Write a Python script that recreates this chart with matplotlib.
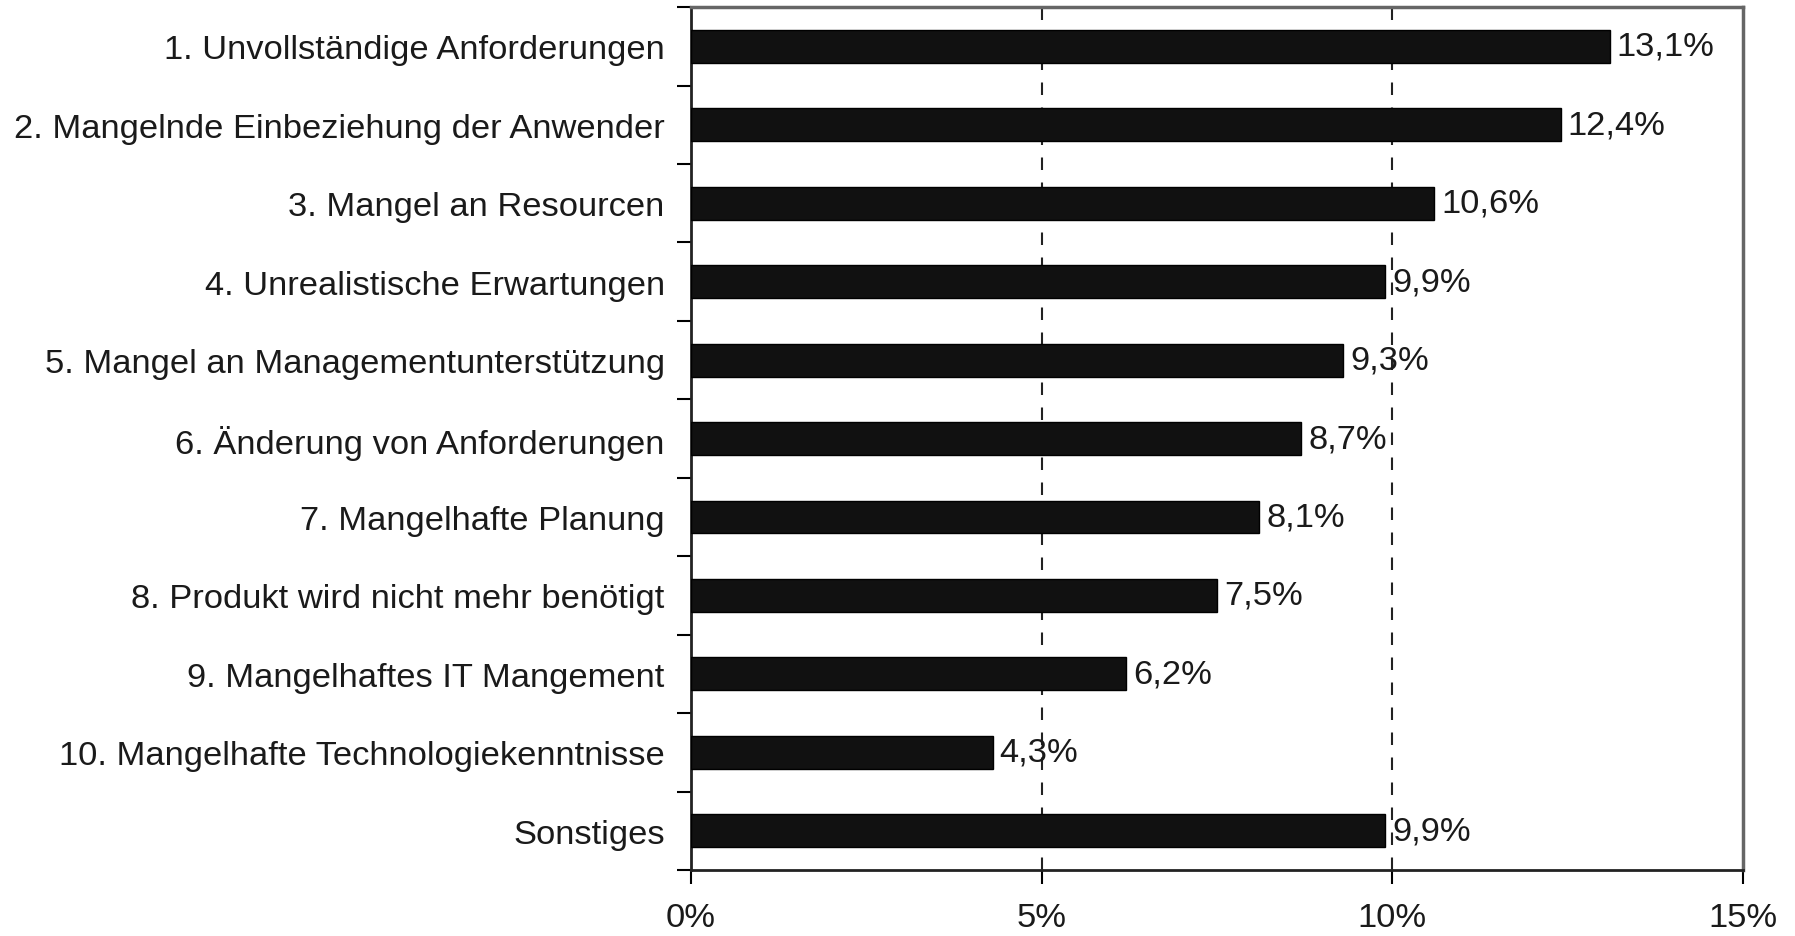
import matplotlib.pyplot as plt
import numpy as np

plt.rcParams['font.family'] = ['Liberation Sans', 'DejaVu Sans']

categories = [
    "1. Unvollständige Anforderungen",
    "2. Mangelnde Einbeziehung der Anwender",
    "3. Mangel an Resourcen",
    "4. Unrealistische Erwartungen",
    "5. Mangel an Managementunterstützung",
    "6. Änderung von Anforderungen",
    "7. Mangelhafte Planung",
    "8. Produkt wird nicht mehr benötigt",
    "9. Mangelhaftes IT Mangement",
    "10. Mangelhafte Technologiekenntnisse",
    "Sonstiges",
]
values = [13.1, 12.4, 10.6, 9.9, 9.3, 8.7, 8.1, 7.5, 6.2, 4.3, 9.9]
xticks = [0, 5, 10, 15]
xtick_labels = ["0%", "5%", "10%", "15%"]

FS = 24.8

fig = plt.figure(figsize=(17.95, 9.37), dpi=100)
ax = fig.add_axes([0.385, 0.0704, 0.586, 0.921])

y = np.arange(len(categories))
ax.barh(y, values, height=0.42, color="#111111", edgecolor="#000000", linewidth=1, zorder=3)

for yi, v in zip(y, values):
    ax.text(v + 0.1, yi, f"{v:.1f}%".replace(".", ","), va="center", ha="left",
            fontsize=FS, color="#1a1a1a", zorder=4)

for gx in [5, 10]:
    ax.axvline(gx, color="#222222", linestyle=(0, (6, 6)), linewidth=1.5, zorder=2)

ax.set_xlim(0, 15)
ax.set_ylim(len(categories) - 0.5, -0.5)

ax.set_yticks(y)
ax.set_yticklabels(categories, fontsize=FS, color="#1a1a1a")
ax.set_yticks(np.arange(len(categories) + 1) - 0.5, minor=True)
ax.tick_params(axis="y", which="major", length=0, pad=19)
ax.tick_params(axis="y", which="minor", length=10, width=1.5, direction="out")

ax.set_xticks(xticks)
ax.set_xticklabels(xtick_labels, fontsize=FS, color="#1a1a1a")
ax.tick_params(axis="x", length=10, width=1.5, direction="out", pad=13)

for side in ["left", "bottom"]:
    ax.spines[side].set_color("#222222")
    ax.spines[side].set_linewidth(2)
for side in ["top", "right"]:
    ax.spines[side].set_color("#666666")
    ax.spines[side].set_linewidth(2.5)

fig.savefig("out.png", dpi=100)
